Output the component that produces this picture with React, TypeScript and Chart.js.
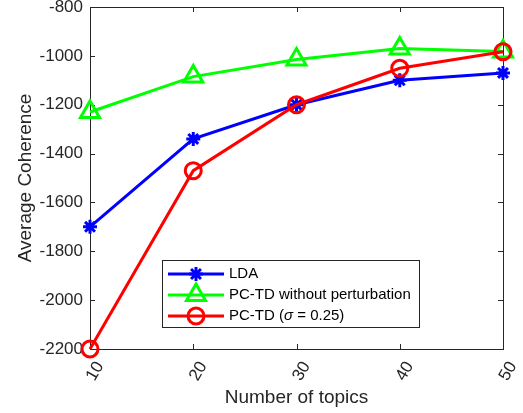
import React, { useEffect, useRef } from "react";
import { Chart, registerables } from "chart.js";

Chart.register(...registerables);

const categories = ["10", "20", "30", "40", "50"];
const ldaValues = [-1700, -1340, -1200, -1100, -1070];
const pctdNoPertValues = [-1230, -1085, -1015, -970, -982];
const pctdSigmaValues = [-2200, -1470, -1200, -1051, -983];
const yMin = -2200;
const yMax = -800;
const yStep = 200;

const FONT = "'Liberation Sans', Arial, Helvetica, sans-serif";
const AXIS_COLOR = "#262626";

function drawMarker(ctx: CanvasRenderingContext2D, style: string, x: number, y: number, r: number, color: string) {
  ctx.save();
  ctx.strokeStyle = color;
  ctx.lineWidth = 3;
  ctx.beginPath();
  if (style === "star") {
    ctx.moveTo(x, y - r); ctx.lineTo(x, y + r);
    ctx.moveTo(x - r, y); ctx.lineTo(x + r, y);
    const d = r * Math.SQRT1_2;
    ctx.moveTo(x - d, y - d); ctx.lineTo(x + d, y + d);
    ctx.moveTo(x - d, y + d); ctx.lineTo(x + d, y - d);
  } else if (style === "triangle") {
    let rad = 0;
    const tp = (2 * Math.PI) / 3;
    ctx.moveTo(x + Math.sin(rad) * r, y - Math.cos(rad) * r);
    rad += tp;
    ctx.lineTo(x + Math.sin(rad) * r, y - Math.cos(rad) * r);
    rad += tp;
    ctx.lineTo(x + Math.sin(rad) * r, y - Math.cos(rad) * r);
    ctx.closePath();
  } else {
    ctx.arc(x, y, r, 0, Math.PI * 2);
  }
  ctx.stroke();
  ctx.restore();
}

const boxPlugin = {
  id: "matlabBox",
  beforeDatasetsDraw(chart: any) {
    const { ctx, chartArea } = chart;
    const { left, right, top, bottom } = chartArea;
    const xs = chart.scales.x;
    const ys = chart.scales.y;
    ctx.save();
    ctx.strokeStyle = AXIS_COLOR;
    ctx.lineWidth = 1;
    ctx.strokeRect(Math.round(left) + 0.5, Math.round(top) + 0.5, Math.round(right - left), Math.round(bottom - top));
    ctx.beginPath();
    const tl = 5;
    for (let v = yMin; v <= yMax; v += yStep) {
      const py = Math.round(ys.getPixelForValue(v)) + 0.5;
      ctx.moveTo(left, py); ctx.lineTo(left + tl, py);
      ctx.moveTo(right, py); ctx.lineTo(right - tl, py);
    }
    categories.forEach((_, i) => {
      const px = Math.round(xs.getPixelForValue(i)) + 0.5;
      ctx.moveTo(px, bottom); ctx.lineTo(px, bottom - tl);
      ctx.moveTo(px, top); ctx.lineTo(px, top + tl);
    });
    ctx.stroke();
    ctx.restore();
  },
};

const legendPlugin = {
  id: "insideLegend",
  afterDraw(chart: any) {
    const { ctx, chartArea } = chart;
    const bx = chartArea.left + 72;
    const by = chartArea.top + 253;
    const bw = 257;
    const bh = 67;
    ctx.save();
    ctx.fillStyle = "#ffffff";
    ctx.fillRect(bx, by, bw, bh);
    ctx.strokeStyle = AXIS_COLOR;
    ctx.lineWidth = 1;
    ctx.strokeRect(Math.round(bx) + 0.5, Math.round(by) + 0.5, bw, bh);
    const items = [
      { color: "#0000ff", style: "star", r: 7, parts: [{ t: "LDA", it: false }] },
      { color: "#00ff00", style: "triangle", r: 11, parts: [{ t: "PC-TD without perturbation", it: false }] },
      {
        color: "#ff0000",
        style: "circle",
        r: 8,
        parts: [
          { t: "PC-TD (", it: false },
          { t: "\u03c3", it: true },
          { t: " = 0.25)", it: false },
        ],
      },
    ];
    items.forEach((item, i) => {
      const cy = by + 14 + i * 21;
      ctx.strokeStyle = item.color;
      ctx.lineWidth = 3;
      ctx.beginPath();
      ctx.moveTo(bx + 6, cy);
      ctx.lineTo(bx + 62, cy);
      ctx.stroke();
      drawMarker(ctx, item.style, bx + 34, cy, item.r, item.color);
      let tx = bx + 67;
      ctx.fillStyle = "#000000";
      ctx.textBaseline = "middle";
      ctx.textAlign = "left";
      item.parts.forEach((p) => {
        ctx.font = `${p.it ? "italic " : ""}15px ${FONT}`;
        ctx.fillText(p.t, tx, cy);
        tx += ctx.measureText(p.t).width;
      });
    });
    ctx.restore();
  },
};

const zeroPadding = (scale: any) => {
  scale.paddingTop = 0;
  scale.paddingBottom = 0;
  scale.paddingLeft = 0;
  scale.paddingRight = 0;
};

export default function App() {
  const canvasRef = useRef<HTMLCanvasElement | null>(null);

  useEffect(() => {
    document.body.style.margin = "0";
    const canvas = canvasRef.current;
    if (!canvas) return;
    const chart = new Chart(canvas, {
      type: "line",
      data: {
        labels: categories,
        datasets: [
          {
            label: "LDA",
            data: ldaValues,
            borderColor: "#0000ff",
            backgroundColor: "rgba(0,0,0,0)",
            pointStyle: "star",
            pointRadius: 7,
            pointBorderWidth: 3,
            pointBorderColor: "#0000ff",
            borderWidth: 3,
            order: 2,
            clip: false,
          } as any,
          {
            label: "PC-TD without perturbation",
            data: pctdNoPertValues,
            borderColor: "#00ff00",
            backgroundColor: "rgba(0,0,0,0)",
            pointStyle: "triangle",
            pointRadius: 11,
            pointBorderWidth: 3,
            pointBorderColor: "#00ff00",
            borderWidth: 3,
            order: 1,
            clip: false,
          },
          {
            label: "PC-TD (\u03c3 = 0.25)",
            data: pctdSigmaValues,
            borderColor: "#ff0000",
            backgroundColor: "rgba(0,0,0,0)",
            pointStyle: "circle",
            pointRadius: 8,
            pointBorderWidth: 3,
            pointBorderColor: "#ff0000",
            borderWidth: 3,
            order: 0,
            clip: false,
          },
        ],
      },
      options: {
        responsive: false,
        animation: false,
        events: [],
        layout: { autoPadding: false, padding: { top: 7, right: 20, bottom: 0, left: 0 } },
        plugins: {
          legend: { display: false },
          tooltip: { enabled: false },
        },
        elements: { line: { tension: 0 } },
        scales: {
          x: {
            type: "category",
            offset: false,
            grid: { display: false, drawTicks: false },
            border: { display: false },
            ticks: {
              autoSkip: false,
              minRotation: 60,
              maxRotation: 60,
              padding: 9,
              labelOffset: 10,
              color: AXIS_COLOR,
              font: { family: FONT, size: 17 },
            },
            title: {
              display: true,
              text: "Number of topics",
              color: AXIS_COLOR,
              font: { family: FONT, size: 19 },
              padding: { top: 0, bottom: 4 },
            },
            afterFit(scale: any) {
              scale.height = 64;
              zeroPadding(scale);
            },
          },
          y: {
            type: "linear",
            min: yMin,
            max: yMax,
            grid: { display: false, drawTicks: false },
            border: { display: false },
            ticks: {
              stepSize: yStep,
              padding: 7,
              color: AXIS_COLOR,
              font: { family: FONT, size: 17 },
              callback: (v: any) => String(v),
            },
            title: {
              display: true,
              text: "Average Coherence",
              color: AXIS_COLOR,
              font: { family: FONT, size: 19 },
              padding: { top: 14, bottom: 0 },
            },
            afterFit(scale: any) {
              scale.width = 90;
              zeroPadding(scale);
            },
          },
        },
      },
      plugins: [boxPlugin, legendPlugin],
    });
    return () => chart.destroy();
  }, []);

  return (
    <div style={{ position: "absolute", left: 0, top: 0, width: 523, height: 413, background: "#fff" }}>
      <canvas ref={canvasRef} width={523} height={413} />
    </div>
  );
}
